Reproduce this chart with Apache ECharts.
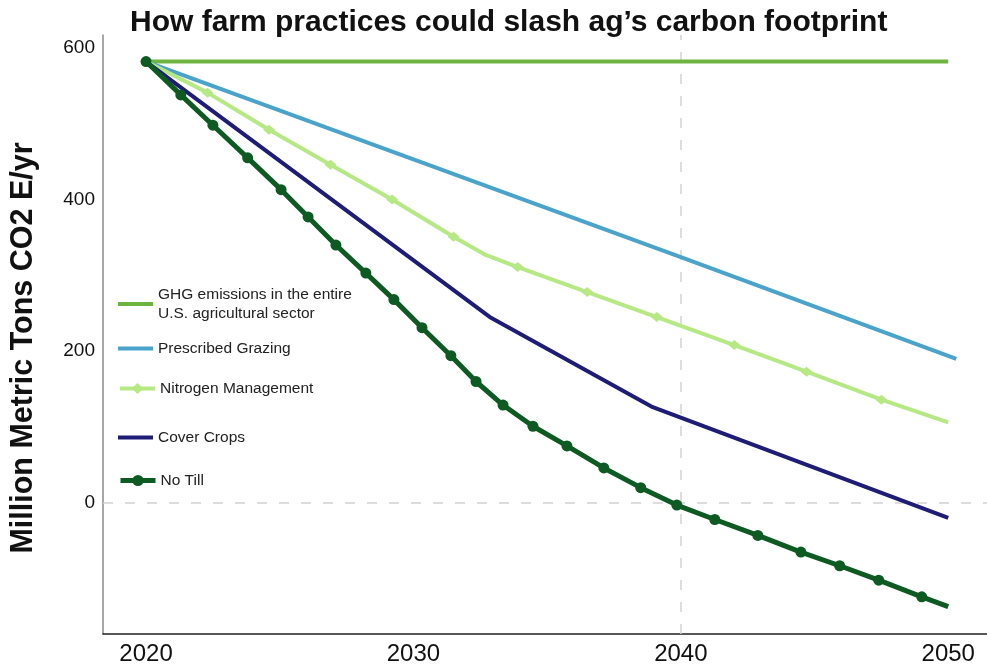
<!DOCTYPE html>
<html>
<head>
<meta charset="utf-8">
<script src="https://cdn.jsdelivr.net/npm/echarts@6/dist/echarts.min.js"></script>
<style>
html,body{margin:0;padding:0;background:#fff;}
#chart{width:987px;height:666px;}
</style>
</head>
<body>
<div id="chart"></div>
<script>
// ---- data ----
const xTickLabels = [2020, 2030, 2040, 2050];
const yTickLabels = [0, 200, 400, 600];

const ghgYears = [2020, 2050];
const ghgValues = [582, 582];

const grazingYears = [2020, 2030, 2040, 2050.3];
const grazingValues = [582, 453, 324, 190];

const nitrogenYears = [2020, 2022.3, 2024.6, 2026.9, 2029.2, 2031.5, 2032.7, 2033.9, 2036.5, 2039.1, 2042.0, 2044.7, 2047.5, 2050];
const nitrogenValues = [582, 541, 492, 446, 400, 351, 327, 311, 278, 245, 208, 173, 136, 106];
const nitrogenMarked = [true, true, true, true, true, true, false, true, true, true, true, true, true, false];

const coverYears = [2020, 2032.9, 2038.9, 2050];
const coverValues = [582, 244, 127, -20];

const noTillYears = [2020, 2021.3, 2022.5, 2023.8, 2025.05, 2026.06, 2027.1, 2028.22, 2029.27, 2030.32, 2031.4, 2032.34, 2033.35, 2034.47, 2035.74, 2037.12, 2038.5, 2039.85, 2041.27, 2042.88, 2044.49, 2045.94, 2047.4, 2049.01, 2050];
const noTillValues = [582, 538, 498, 455, 413, 377, 340, 303, 268, 231, 194, 160, 129, 101, 75, 46, 20, -3, -22, -43, -65, -83, -102, -124, -137];

const names = {
  ghg: 'GHG emissions in the entire\nU.S. agricultural sector',
  grazing: 'Prescribed Grazing',
  nitrogen: 'Nitrogen Management',
  cover: 'Cover Crops',
  noTill: 'No Till'
};

const colors = {
  ghg: '#6db440',
  grazing: '#49a3cb',
  nitrogen: '#b6e884',
  cover: '#1f1c78',
  noTill: '#0e5a23'
};

function pairs(xs, ys) { return xs.map((x, i) => [x, ys[i]]); }

const FONT = "'Liberation Sans', Arial, Helvetica, sans-serif";

const chart = echarts.init(document.getElementById('chart'), null, {renderer: 'canvas'});

function legendAt(name, top, lineIcon, lineWidth) {
  const lg = {
    data: [lineIcon ? {name: name, icon: 'rect'} : name],
    left: 118,
    top: top,
    orient: 'vertical',
    itemWidth: 35,
    itemHeight: lineIcon ? 4 : 14,
    itemGap: 0,
    padding: 0,
    selectedMode: false,
    textStyle: {fontFamily: FONT, fontSize: 15.5, color: '#222', lineHeight: 19}
  };
  if (!lineIcon) lg.lineStyle = {width: lineWidth};
  return lg;
}

const option = {
  animation: false,
  backgroundColor: '#fff',
  title: {
    text: "How farm practices could slash ag’s carbon footprint",
    left: 125,
    top: 3,
    textStyle: {fontFamily: FONT, fontWeight: 'bold', fontSize: 30, color: '#111'}
  },
  legend: [
    legendAt(names.ghg, 285, true),
    legendAt(names.grazing, 339, true),
    legendAt(names.nitrogen, 379, false, 4),
    legendAt(names.cover, 428, true),
    legendAt(names.noTill, 471, false, 5)
  ],
  grid: {left: 102, right: 0, top: 35, bottom: 32},
  xAxis: {
    type: 'value',
    min: 2018.39,
    max: 2051.45,
    axisLine: {show: true, onZero: false, lineStyle: {color: '#222', width: 1.5}},
    axisTick: {show: false},
    splitLine: {show: false},
    axisLabel: {
      customValues: xTickLabels,
      fontFamily: FONT, fontSize: 24, color: '#111', margin: 8,
      formatter: v => String(v)
    }
  },
  yAxis: {
    type: 'value',
    min: -173,
    max: 617,
    name: 'Million Metric Tons CO2 E/yr',
    nameLocation: 'middle',
    nameGap: 64,
    nameTextStyle: {fontFamily: FONT, fontWeight: 'bold', fontSize: 30.5, color: '#111', padding: [0, 27, 0, 0]},
    axisLine: {show: true, onZero: false, lineStyle: {color: '#8a8a8a', width: 1.5}},
    axisTick: {show: false},
    splitLine: {show: false},
    axisLabel: {
      customValues: yTickLabels,
      fontFamily: FONT, fontSize: 19, color: '#111', margin: 8
    }
  },
  series: [
    {
      name: names.ghg,
      type: 'line',
      data: pairs(ghgYears, ghgValues),
      symbol: 'none',
      lineStyle: {color: colors.ghg, width: 4},
      itemStyle: {color: colors.ghg},
      z: 2,
      markLine: {
        silent: true,
        symbol: 'none',
        label: {show: false},
        lineStyle: {color: '#d2d2d2', type: [10, 12], width: 1.5},
        data: [{yAxis: 0}, {xAxis: 2040}],
        z: 1
      }
    },
    {
      name: names.grazing,
      type: 'line',
      data: pairs(grazingYears, grazingValues),
      symbol: 'none',
      lineStyle: {color: colors.grazing, width: 4},
      itemStyle: {color: colors.grazing},
      z: 3
    },
    {
      name: names.nitrogen,
      type: 'line',
      data: nitrogenYears.map((x, i) => ({value: [x, nitrogenValues[i]], symbol: nitrogenMarked[i] ? 'diamond' : 'none'})),
      symbol: 'diamond',
      symbolSize: [12, 10],
      showAllSymbol: true,
      lineStyle: {color: colors.nitrogen, width: 4},
      itemStyle: {color: colors.nitrogen},
      z: 4
    },
    {
      name: names.cover,
      type: 'line',
      data: pairs(coverYears, coverValues),
      symbol: 'none',
      lineStyle: {color: colors.cover, width: 4},
      itemStyle: {color: colors.cover},
      z: 5
    },
    {
      name: names.noTill,
      type: 'line',
      data: noTillYears.map((x, i) => ({value: [x, noTillValues[i]], symbol: i === noTillYears.length - 1 ? 'none' : 'circle'})),
      symbol: 'circle',
      symbolSize: 11,
      showAllSymbol: true,
      lineStyle: {color: colors.noTill, width: 5},
      itemStyle: {color: colors.noTill},
      z: 6
    }
  ]
};

chart.setOption(option);
</script>
</body>
</html>
